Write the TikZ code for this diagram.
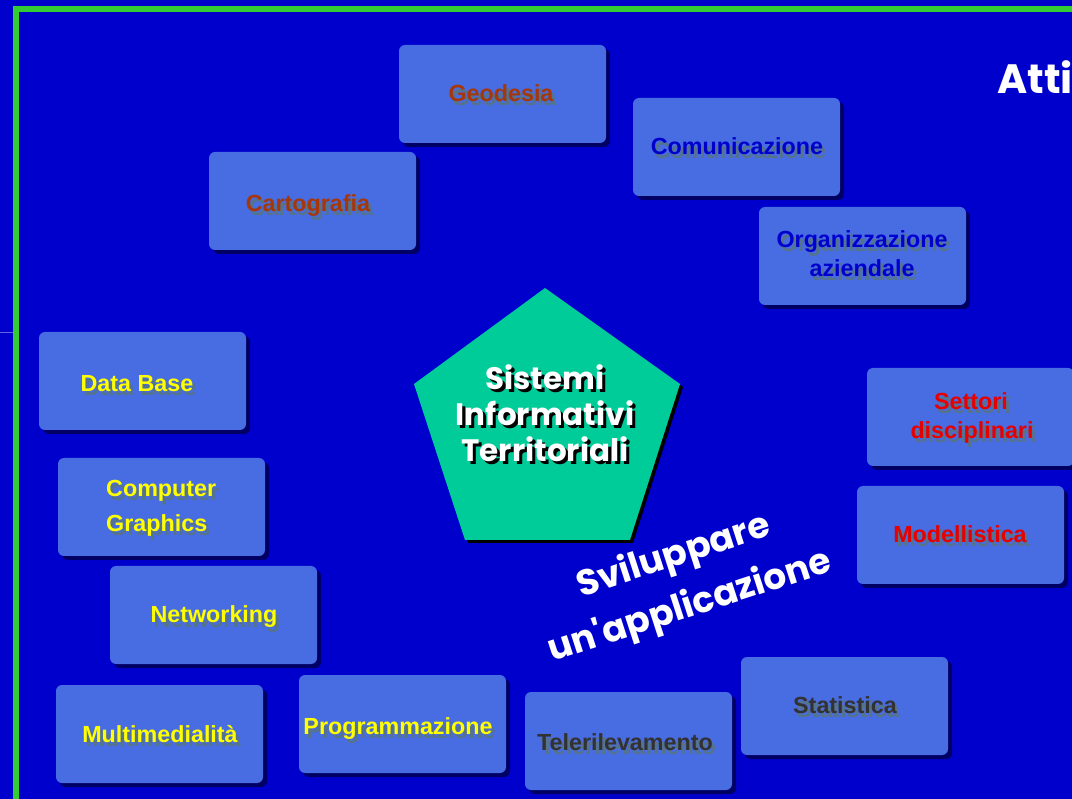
\documentclass[tikz,border=0pt]{standalone}
\usepackage{fontspec}
\setmainfont{Liberation Sans}
\newfontfamily\comic{Poppins}
\usetikzlibrary{calc,shadows}
\definecolor{bg}{RGB}{0,0,204}
\definecolor{frame}{RGB}{51,204,51}
\definecolor{boxblue}{RGB}{72,108,226}
\definecolor{boxshadow}{RGB}{0,0,100}
\definecolor{txtshadow}{RGB}{85,115,140}
\definecolor{brownred}{RGB}{165,55,10}
\definecolor{darkblue}{RGB}{0,0,205}
\definecolor{ylw}{RGB}{255,255,0}
\definecolor{rd}{RGB}{230,0,0}
\definecolor{dgray}{RGB}{50,50,50}
\definecolor{pentfill}{RGB}{0,204,153}
\definecolor{faint}{RGB}{100,100,225}
\newcommand\lbl[6][base]{%
  \node[lab,text=txtshadow,anchor=#1] at (#3+3,#4+4) {#6};
  \node[lab,text=#5,anchor=#1] (#2) at (#3,#4) {#6};}
\begin{document}
\begin{tikzpicture}[x=1pt,y=-1pt,
  tile/.style={rounded corners=6pt, fill=boxblue, minimum width=207pt, minimum height=98pt, inner sep=0pt,
    drop shadow={shadow xshift=4pt, shadow yshift=-4pt, fill=boxshadow, opacity=1}},
  lab/.style={font=\bfseries\fontsize{23.3}{28}\selectfont, inner sep=0pt},
  pentlab/.style={font=\comic\bfseries\fontsize{31}{36}\selectfont, align=center, inner sep=0pt},
  bigtext/.style={font=\comic\bfseries\fontsize{36}{53}\selectfont, align=center, inner sep=0pt, text=white},
]
\useasboundingbox (0,0) rectangle (1072,799);
\clip (0,0) rectangle (1072,799);
\fill[bg] (0,0) rectangle (1072,799);
% frame
\draw[frame, line width=6pt] (15.5,810) -- (15.5,9) -- (1080,9);
\draw[faint, line width=0.8pt] (0,332) -- (12.5,332);

% boxes
\node[tile] (geo)  at (502.5,94)  {};
\node[tile] (com)  at (736.5,147) {};
\node[tile] (car)  at (312.5,201) {};
\node[tile] (org)  at (862.5,256) {};
\node[tile] (db)   at (142.5,381) {};
\node[tile] (set)  at (970.5,417) {};
\node[tile] (cg)   at (161.5,507) {};
\node[tile] (mod)  at (960.5,535) {};
\node[tile] (net)  at (213.5,615) {};
\node[tile] (mul)  at (159.5,734) {};
\node[tile] (pro)  at (402.5,724) {};
\node[tile] (tel)  at (628.5,741) {};
\node[tile] (sta)  at (844.5,706) {};

% labels
\lbl{tgeo}{501}{102}{brownred}{Geodesia}
\lbl{tcom}{737}{155}{darkblue}{Comunicazione}
\lbl{tcar}{308}{212}{brownred}{Cartografia}
\lbl{torga}{862}{248}{darkblue}{Organizzazione}
\lbl{torgb}{862}{277}{darkblue}{aziendale}
\lbl{tdb}{137}{392}{ylw}{Data Base}
\lbl{tseta}{971}{410}{rd}{Settori}
\lbl{tsetb}{972}{439}{rd}{disciplinari}
\lbl[base west]{tcga}{106}{497}{ylw}{Computer}
\lbl[base west]{tcgb}{106}{532}{ylw}{Graphics}
\lbl{tmod}{960}{543}{rd}{Modellistica}
\lbl{tnet}{214}{623}{ylw}{Networking}
\lbl{tmul}{160}{742}{ylw}{Multimedialità}
\lbl{tpro}{398}{734}{ylw}{Programmazione}
\lbl{ttel}{625}{750}{dgray}{Telerilevamento}
\lbl{tsta}{845}{713}{dgray}{Statistica}

% pentagon
\def\pent{(545,288) -- (680,384) -- (630,540) -- (465,540) -- (414,384) -- cycle}
\fill[black, xshift=3pt, yshift=-3pt] \pent;
\fill[pentfill] \pent;
\node[pentlab, text=black] at (548,416) {Sistemi\\Informativi\\Territoriali};
\node[pentlab, text=white] (sit) at (545,413) {Sistemi\\Informativi\\Territoriali};

% rotated text
\node[bigtext, rotate=18] (svi) at (682,582) {Sviluppare\\un'applicazione};

% title fragment
\node[font=\comic\bfseries\fontsize{41}{48}\selectfont, text=white, anchor=base west, inner sep=0pt] (atti) at (997,94) {Atti};
\end{tikzpicture}
\end{document}
